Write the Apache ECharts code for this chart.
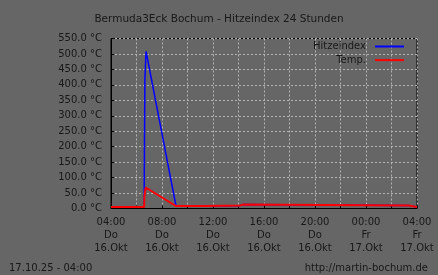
<!DOCTYPE html>
<html>
<head>
<meta charset="utf-8">
<script src="https://cdn.jsdelivr.net/npm/echarts@6/dist/echarts.min.js"></script>
<style>
html,body{margin:0;padding:0;background:#666666;}
#c{width:438px;height:275px;}
</style>
</head>
<body>
<div id="c"></div>
<script>
// hours after 16.Okt 04:00
const heatHours = [0, 2.6, 2.62, 2.66, 2.72, 2.75, 5.1, 7.37, 7.4, 10.1, 10.15, 10.4, 10.45, 23.35, 23.4, 24];
const heatValues = [5, 5, 172, 422, 422, 508, 8, 8, 10, 10, 13, 13, 10, 10, 5, 5];
const tempHours = [0, 2.6, 2.62, 2.68, 2.72, 5.1, 7.37, 7.4, 10.1, 10.15, 10.4, 10.45, 23.35, 23.4, 24];
const tempValues = [5, 5, 38, 38, 68, 8, 8, 10, 10, 13, 13, 10, 10, 5, 5];
const tickHours = [0, 4, 8, 12, 16, 20, 24];
const tickLabels = ['04:00\nDo\n16.Okt', '08:00\nDo\n16.Okt', '12:00\nDo\n16.Okt', '16:00\nDo\n16.Okt', '20:00\nDo\n16.Okt', '00:00\nFr\n17.Okt', '04:00\nFr\n17.Okt'];
const titleText = 'Bermuda3Eck Bochum - Hitzeindex 24 Stunden';
const footerLeft = '17.10.25 - 04:00';
const footerRight = 'http://martin-bochum.de';

const font = 'DejaVu Sans';
const txt = '#181818';
const chart = echarts.init(document.getElementById('c'), null, {renderer: 'canvas'});
chart.setOption({
  backgroundColor: '#666666',
  animation: false,
  textStyle: {fontFamily: font},
  title: [
    {text: titleText, left: 'center', top: 9, textStyle: {fontFamily: font, fontSize: 10.5, fontWeight: 'normal', color: txt}},
    {text: footerLeft, left: 4, top: 258, textStyle: {fontFamily: font, fontSize: 10, fontWeight: 'normal', color: txt}},
    {text: footerRight, right: 5, top: 258, textStyle: {fontFamily: font, fontSize: 10, fontWeight: 'normal', color: txt}}
  ],
  legend: {
    orient: 'vertical', right: 29, top: 35.5, align: 'right',
    itemWidth: 29, itemHeight: 2, itemGap: 1.6, icon: 'rect',
    textStyle: {fontFamily: font, fontSize: 10, color: txt, lineHeight: 12, padding: [0, 4, 0, 0]},
    data: ['Hitzeindex', 'Temp.']
  },
  grid: {left: 111, right: 21, top: 38.5, bottom: 66.5, show: true, borderColor: '#000', borderWidth: 1, backgroundColor: 'transparent'},
  xAxis: {
    type: 'value', min: 0, max: 24, interval: 2,
    axisLine: {show: true, lineStyle: {color: '#000', width: 1}},
    axisTick: {show: true, inside: true, length: 3, lineStyle: {color: '#000'}},
    splitLine: {show: true, lineStyle: {color: '#b4b4b4', type: [2, 2], width: 1}},
    axisLabel: {
      margin: 8, fontFamily: font, fontSize: 10, color: txt, lineHeight: 12.8,
      formatter: function (v) { const i = tickHours.indexOf(v); return i >= 0 ? tickLabels[i] : ''; }
    }
  },
  yAxis: {
    type: 'value', min: 0, max: 550, interval: 50,
    axisLine: {show: true, lineStyle: {color: '#000', width: 1}},
    axisTick: {show: true, inside: true, length: 3, lineStyle: {color: '#000'}},
    splitLine: {show: true, lineStyle: {color: '#b4b4b4', type: [2, 2], width: 1}},
    axisLabel: {margin: 9, fontFamily: font, fontSize: 10, color: txt, formatter: function (v) { return v.toFixed(1) + ' °C'; }}
  },
  series: [
    {name: 'Hitzeindex', type: 'line', showSymbol: false, color: '#0000ff', lineStyle: {width: 1.5, color: '#0000ff'},
     data: heatHours.map((h, i) => [h, heatValues[i]])},
    {name: 'Temp.', type: 'line', showSymbol: false, color: '#ff0000', lineStyle: {width: 2, color: '#ff0000'},
     data: tempHours.map((h, i) => [h, tempValues[i]])}
  ]
});
</script>
</body>
</html>
